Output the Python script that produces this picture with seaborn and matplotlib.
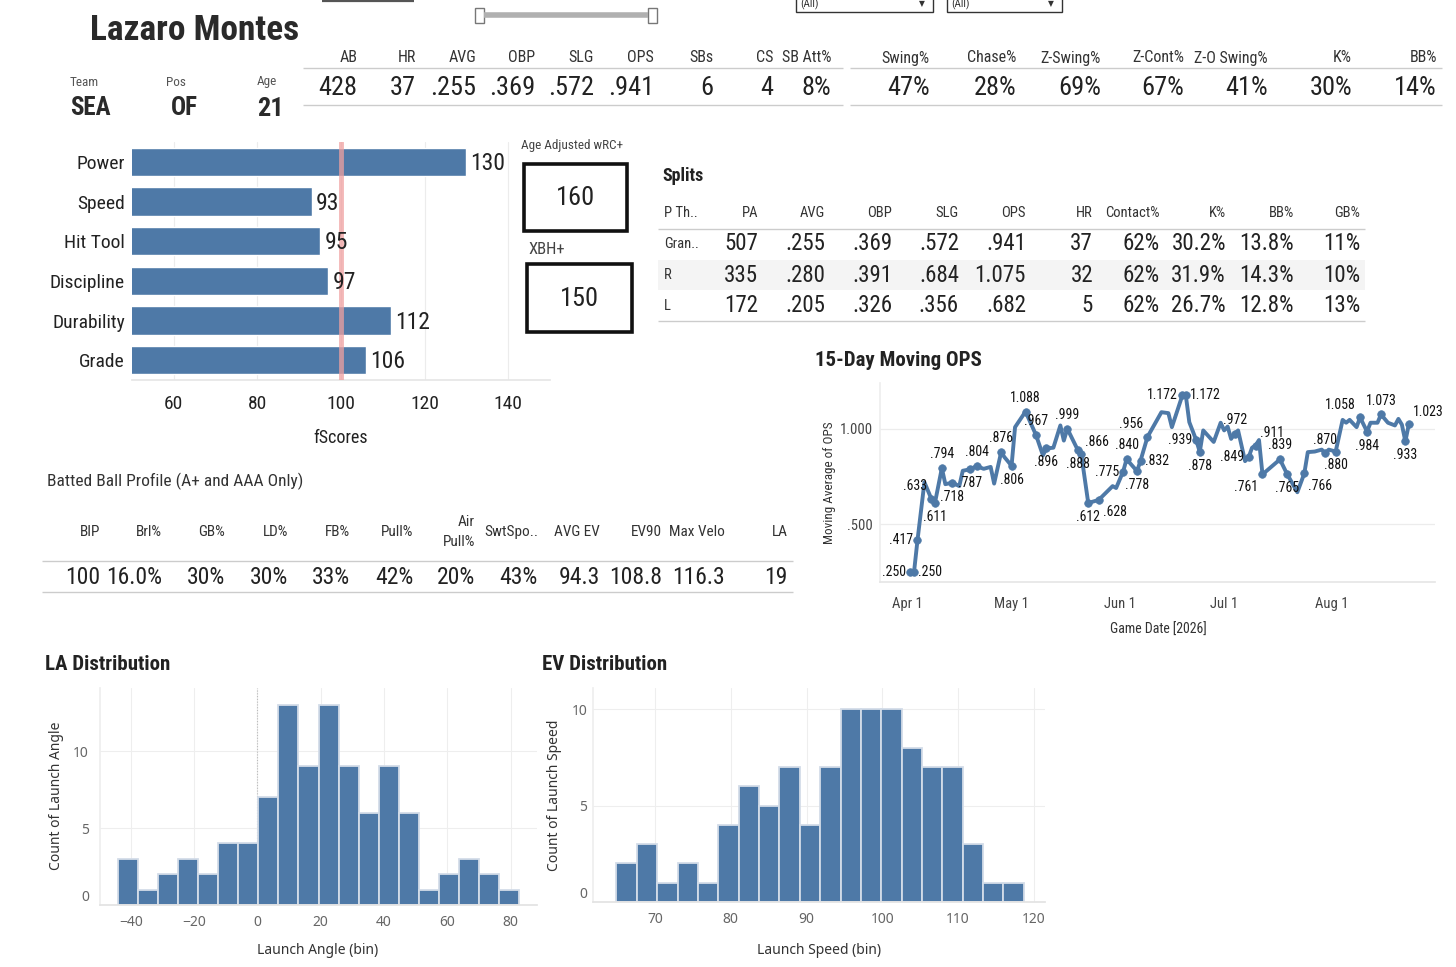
import numpy as np
import pandas as pd
import matplotlib
matplotlib.use('Agg')
import matplotlib.pyplot as plt
import seaborn as sns
from matplotlib import font_manager as fm
from matplotlib.patches import Rectangle

# ---------------- DATA ----------------
player_name = "Lazaro Montes"
team, pos, age = "SEA", "OF", "21"

stat_hdr1 = ['AB', 'HR', 'AVG', 'OBP', 'SLG', 'OPS', 'SBs', 'CS', 'SB Att%']
stat_val1 = ['428', '37', '.255', '.369', '.572', '.941', '6', '4', '8%']
stat_hdr2 = ['Swing%', 'Chase%', 'Z-Swing%', 'Z-Cont%', 'Z-O Swing%', 'K%', 'BB%']
stat_val2 = ['47%', '28%', '69%', '67%', '41%', '30%', '14%']

fs_cats = ['Power', 'Speed', 'Hit Tool', 'Discipline', 'Durability', 'Grade']
fs_vals = [130, 93, 95, 97, 112, 106]
wrc_plus = '160'
xbh_plus = '150'

split_cols = ['P Th..', 'PA', 'AVG', 'OBP', 'SLG', 'OPS', 'HR', 'Contact%', 'K%', 'BB%', 'GB%']
split_grand = ['Gran..', '507', '.255', '.369', '.572', '.941', '37', '62%', '30.2%', '13.8%', '11%']
split_r = ['R', '335', '.280', '.391', '.684', '1.075', '32', '62%', '31.9%', '14.3%', '10%']
split_l = ['L', '172', '.205', '.326', '.356', '.682', '5', '62%', '26.7%', '12.8%', '13%']

bb_cols = ['BIP', 'Brl%', 'GB%', 'LD%', 'FB%', 'Pull%', 'Air\nPull%', 'SwtSpo..', 'AVG EV', 'EV90', 'Max Velo', 'LA']
bb_vals = ['100', '16.0%', '30%', '30%', '33%', '42%', '20%', '43%', '94.3', '108.8', '116.3', '19']

ops_dates = ['2026-04-02', '2026-04-03', '2026-04-04', '2026-04-06', '2026-04-08', '2026-04-09',
             '2026-04-11', '2026-04-12', '2026-04-14', '2026-04-16', '2026-04-17', '2026-04-19',
             '2026-04-21', '2026-04-23', '2026-04-25', '2026-04-26', '2026-04-28', '2026-04-29',
             '2026-05-01', '2026-05-02', '2026-05-05', '2026-05-08', '2026-05-10', '2026-05-11',
             '2026-05-13', '2026-05-15', '2026-05-16', '2026-05-17', '2026-05-20', '2026-05-21',
             '2026-05-23', '2026-05-26', '2026-05-30', '2026-05-31', '2026-06-02', '2026-06-03',
             '2026-06-06', '2026-06-07', '2026-06-09', '2026-06-13', '2026-06-15', '2026-06-16',
             '2026-06-19', '2026-06-20', '2026-06-21', '2026-06-23', '2026-06-24', '2026-06-25',
             '2026-06-28', '2026-06-30', '2026-07-01', '2026-07-02', '2026-07-03', '2026-07-04',
             '2026-07-05', '2026-07-07', '2026-07-08', '2026-07-09', '2026-07-10', '2026-07-11',
             '2026-07-12', '2026-07-17', '2026-07-19', '2026-07-22', '2026-07-24', '2026-07-25',
             '2026-07-27', '2026-07-29', '2026-07-30', '2026-07-31', '2026-08-02', '2026-08-04',
             '2026-08-05', '2026-08-06', '2026-08-08', '2026-08-09', '2026-08-11', '2026-08-12',
             '2026-08-14', '2026-08-15', '2026-08-17', '2026-08-19', '2026-08-20', '2026-08-21',
             '2026-08-22', '2026-08-23']
ops_vals = [0.250, 0.250, 0.417, 0.720, 0.633, 0.611,
            0.794, 0.710, 0.718, 0.700, 0.780, 0.787,
            0.804, 0.790, 0.800, 0.713, 0.876, 0.850,
            0.806, 1.007, 1.088, 0.967, 0.860, 0.896,
            0.900, 1.016, 0.937, 0.999, 0.888, 0.866,
            0.612, 0.628, 0.700, 0.690, 0.775, 0.840,
            0.778, 0.832, 0.956, 1.085, 1.080, 1.007,
            1.172, 1.172, 1.033, 0.939, 0.878, 0.990,
            0.930, 1.030, 0.990, 1.010, 0.946, 0.972,
            0.990, 0.830, 0.849, 0.900, 0.911, 0.940,
            0.761, 0.839, 0.765, 0.668, 0.766, 0.877,
            0.880, 0.890, 0.870, 0.890, 0.880, 1.045,
            1.030, 1.045, 1.007, 1.058, 0.984, 1.030,
            1.030, 1.073, 1.030, 1.016, 1.050, 1.020,
            0.933, 1.023]
# label placement per point ('' = no label / no marker)
ops_label_pos = ['l', 'r', 'l', '', 'al', 'b',
                 'a', '', 'b', '', '', 'b',
                 'a', '', '', '', 'a', '',
                 'b', '', 'a', 'a', '', 'b',
                 '', '', '', 'a', 'b', 'ar',
                 'b', 'br', '', '', 'l', 'a',
                 'b', 'r', 'al', '', '', '',
                 'l', 'r', '', 'l', 'b', '',
                 '', '', '', '', '', 'a',
                 '', '', 'l', '', 'ar', '',
                 'bl', 'a', 'b', '', 'br', '',
                 '', '', 'a', '', 'b', '',
                 '', '', '', 'al', 'b', '',
                 '', 'a', '', '', '', '',
                 'b', 'ar']

la_bin_start, la_bin_width = -44.0, 6.33
la_counts = [3, 1, 2, 3, 2, 4, 4, 7, 13, 9, 13, 9, 6, 9, 6, 1, 2, 3, 2, 1]
ev_bin_start, ev_bin_width = 64.9, 2.69
ev_counts = [2, 3, 1, 2, 1, 4, 6, 5, 7, 4, 7, 10, 10, 10, 8, 7, 7, 3, 1, 1]

# ---------------- STYLE ----------------
sns.set_theme(style='white')
avail = {f.name for f in fm.fontManager.ttflist}
STRETCH = 'normal'
if 'Liberation Sans Narrow' in avail:
    COND = 'Liberation Sans Narrow'
elif 'Roboto Condensed' in avail:
    COND = 'Roboto Condensed'
elif any(f.name == 'DejaVu Sans' and f.stretch == 'condensed' for f in fm.fontManager.ttflist):
    COND, STRETCH = 'DejaVu Sans', 'condensed'
else:
    COND = 'DejaVu Sans'
BOOK = 'Noto Sans' if 'Noto Sans' in avail else 'DejaVu Sans'
plt.rcParams['font.family'] = [COND, 'DejaVu Sans']
plt.rcParams['font.stretch'] = STRETCH

BLUE = '#4e79a7'
DARK = '#222222'
GRID = '#ececec'
W, H = 1456, 967

fig = plt.figure(figsize=(W / 100, H / 100), dpi=100)
fig.patch.set_facecolor('white')


def axpos(x0, y0, x1, y1):
    return [x0 / W, 1 - y1 / H, (x1 - x0) / W, (y1 - y0) / H]


# ---------------- fScores bars ----------------
ax1 = fig.add_axes(axpos(132, 142, 550, 380))
df_fs = pd.DataFrame({'cat': fs_cats, 'val': fs_vals})
sns.barplot(data=df_fs, x='val', y='cat', orient='h', color=BLUE, saturation=1,
            width=0.71, ax=ax1, zorder=2)
ax1.set_xlim(50, 150)
ax1.set_ylim(5.5, -0.5)
ax1.set_xticks([60, 80, 100, 120, 140])
ax1.grid(axis='x', color=GRID, lw=0.8)
ax1.set_axisbelow(True)
ax1.axvline(100, color='#f0a0a0', lw=3.5, alpha=0.75, zorder=3)
for i, v in enumerate(fs_vals):
    ax1.text(v + 1, i + 0.04, str(v), va='center', ha='left', fontsize=17, color=DARK)
ax1.tick_params(axis='x', length=0, pad=11, labelsize=14, colors=DARK)
ax1.tick_params(axis='y', length=0, pad=5, labelsize=14, colors=DARK)
ax1.set_xlabel('')
ax1.set_ylabel('')
for s in ['top', 'right', 'left']:
    ax1.spines[s].set_visible(False)
ax1.spines['bottom'].set_color('#e6e6e6')

# ---------------- OPS line ----------------
ax2 = fig.add_axes(axpos(880, 383, 1435, 582))
df_ops = pd.DataFrame({'date': pd.to_datetime(ops_dates), 'ops': ops_vals, 'pos': ops_label_pos})
sns.lineplot(data=df_ops, x='date', y='ops', color=BLUE, lw=2.8, ax=ax2, zorder=3)
lab = df_ops[df_ops['pos'] != '']
sns.scatterplot(data=lab, x='date', y='ops', color=BLUE, s=30, edgecolor=BLUE, linewidth=0.5,
                ax=ax2, zorder=4)
offs = {'a': ((0, 5), 'center', 'bottom'), 'b': ((0, -5), 'center', 'top'),
        'l': ((-3, 0), 'right', 'center'), 'r': ((3, 0), 'left', 'center'),
        'ar': ((3, 4), 'left', 'bottom'), 'br': ((3, -4), 'left', 'top'),
        'al': ((-3, 4), 'right', 'bottom'), 'bl': ((-3, -4), 'right', 'top')}
for _, r in lab.iterrows():
    v = r['ops']
    txt = ('%.3f' % v) if v >= 1 else ('%.3f' % v)[1:]
    (dx, dy), ha, va = offs[r['pos']]
    ax2.annotate(txt, (r['date'], v), xytext=(dx, dy), textcoords='offset points',
                 ha=ha, va=va, fontsize=10, color='#111111', zorder=5)
ax2.set_xlim(pd.Timestamp('2026-03-24 06:00'), pd.Timestamp('2026-08-30 12:00'))
ax2.set_ylim(0.2005, 1.237)
ax2.set_yticks([0.5, 1.0])
ax2.set_yticklabels(['.500', '1.000'])
mt = pd.to_datetime(['2026-04-01', '2026-05-01', '2026-06-01', '2026-07-01', '2026-08-01'])
ax2.set_xticks(mt)
ax2.set_xticklabels(['Apr 1', 'May 1', 'Jun 1', 'Jul 1', 'Aug 1'])
ax2.grid(axis='y', color=GRID, lw=0.9)
ax2.tick_params(axis='y', length=0, pad=5, labelsize=10.5, colors='#444444')
ax2.tick_params(axis='x', length=3, color='#dddddd', pad=8, labelsize=10.5, colors='#444444')
ax2.set_xlabel('')
ax2.set_ylabel('')
for s in ['top', 'right']:
    ax2.spines[s].set_visible(False)
ax2.spines['left'].set_color('#eeeeee')
ax2.spines['bottom'].set_color('#e6e6e6')

# ---------------- Histograms ----------------
def hist(ax, start, width, counts, xlim, ylim, xticks, pad_y):
    n = len(counts)
    dfh = pd.DataFrame({'center': [start + width * (i + 0.5) for i in range(n)],
                        'count': counts})
    sns.histplot(data=dfh, x='center', weights='count', binwidth=width,
                 binrange=(start, start + width * n), color=BLUE, alpha=1,
                 edgecolor='#d3dce8', linewidth=1.3, ax=ax, zorder=2)
    ax.set_xlim(*xlim)
    ax.set_ylim(*ylim)
    ax.set_xticks(xticks)
    ax.set_yticks([0, 5, 10])
    ax.grid(True, color='#eeeeee', lw=0.8)
    ax.set_axisbelow(True)
    ax.tick_params(axis='both', length=0, labelsize=10, colors='#666666')
    ax.tick_params(axis='x', pad=7)
    ax.tick_params(axis='y', pad=pad_y)
    for t in ax.get_xticklabels() + ax.get_yticklabels():
        t.set_family(BOOK)
        t.set_stretch('normal')
    ax.get_yticklabels()[0].set_va('bottom')
    ax.set_xlabel('')
    ax.set_ylabel('')
    for s in ['top', 'right']:
        ax.spines[s].set_visible(False)
    ax.spines['left'].set_color('#eeeeee')
    ax.spines['bottom'].set_color('#e3e3e3')


ax3 = fig.add_axes(axpos(100, 688, 537, 905))
hist(ax3, la_bin_start, la_bin_width, la_counts, (-49.7, 88.3), (0, 14.1),
     [-40, -20, 0, 20, 40, 60, 80], 8)
ax3.axvline(0, color='#bbbbbb', lw=0.8, ls=(0, (1, 1.5)), zorder=1)

ax4 = fig.add_axes(axpos(593, 688, 1045, 902))
hist(ax4, ev_bin_start, ev_bin_width, ev_counts, (61.8, 121.5), (0, 11.1),
     [70, 80, 90, 100, 110, 120], 4)

# ---------------- Overlay (text, tables, decorations) ----------------
ov = fig.add_axes([0, 0, 1, 1])
ov.set_xlim(0, W)
ov.set_ylim(H, 0)
ov.axis('off')
ov.patch.set_visible(False)
ov.set_zorder(10)


def T(x, y, s, size, ha='left', va='center', weight='normal', color=DARK, family=None, **kw):
    ov.text(x, y, s, fontsize=size, ha=ha, va=va, fontweight=weight, color=color,
            family=family if family else [COND, 'DejaVu Sans'],
            fontstretch=STRETCH if family is None else 'normal', **kw)


def hline(x0, x1, y, color='#cccccc', lw=1.0):
    ov.plot([x0, x1], [y, y], color=color, lw=lw, solid_capstyle='butt')


# decorations at top
hline(322, 414, 0.8, color='#555555', lw=1.6)
hline(484, 648, 15, color='#b0b0b0', lw=4)
for xx in (475, 648):
    ov.add_patch(Rectangle((xx, 8), 9, 15, fc='white', ec='#777777', lw=1))
for (x0, wd) in ((796, 137), (947, 115)):
    ov.add_patch(Rectangle((x0, -6), wd, 18, fc='white', ec='#333333', lw=1))
    T(x0 + 4, 4, '(All)', 8, color='#333333')
    T(x0 + wd - 11, 4, '\u25BC', 5.5, ha='center', color='#333333', family='DejaVu Sans')

# header
T(90, 31, player_name, 25.5, weight='bold', color='#2a2a2a')
T(70, 83, 'Team', 9.5, color='#555555')
T(70, 108, team, 18, weight='bold', color='#2a2a2a')
T(166, 83, 'Pos', 9.5, color='#555555')
T(171, 108, pos, 18, weight='bold', color='#2a2a2a')
T(277, 82, 'Age', 9.5, ha='right', color='#555555')
T(284, 109, age, 19, ha='right', weight='bold', color='#2a2a2a')

x_r1 = [357, 416, 476, 535, 594, 654, 713, 773, 831]
for h, v, x in zip(stat_hdr1, stat_val1, x_r1):
    T(x, 58, h, 11.5, ha='right', color='#333333')
    T(x, 88, v, 19, ha='right')
hline(303, 843, 68)
hline(303, 843, 105)
x_r2 = [930, 1016, 1101, 1184, 1268, 1352, 1437]
for h, v, x in zip(stat_hdr2, stat_val2, x_r2):
    T(x, 58, h, 11.5, ha='right', color='#333333')
    T(x, 88, v, 19, ha='right')
hline(850, 1442, 68)
hline(850, 1442, 105)

# fScores axis title and boxes
T(341, 438, 'fScores', 13, ha='center')
T(521, 146, 'Age Adjusted wRC+', 9.5, color='#444444')
ov.add_patch(Rectangle((524, 164), 103, 67, fc='white', ec='#111111', lw=2.6))
T(575.5, 198, wrc_plus, 19, ha='center')
T(528, 249, 'XBH+', 12, color='#444444')
ov.add_patch(Rectangle((527, 264), 105, 68, fc='white', ec='#111111', lw=2.6))
T(579.5, 299, xbh_plus, 19, ha='center')

# Splits table
T(662, 176, 'Splits', 13, weight='bold')
ov.add_patch(Rectangle((658, 260), 707, 30, fc='#f4f4f4', ec='none'))
x_sp = [664, 758, 825, 892, 959, 1026, 1093, 1160, 1226, 1294, 1360]
for j, c in enumerate(split_cols):
    T(x_sp[j], 213, c, 10.5, ha='left' if j == 0 else 'right', color='#333333')
for row, yy in ((split_grand, 244), (split_r, 275), (split_l, 306)):
    for j, c in enumerate(row):
        if j == 0:
            T(x_sp[j], yy, c, 10.5, ha='left', color='#333333')
        else:
            T(x_sp[j], yy, c, 16.5, ha='right')
hline(658, 1365, 229)
hline(658, 1365, 321)

# Batted ball profile
T(47, 481, 'Batted Ball Profile (A+ and AAA Only)', 12.5, color='#333333')
x_bb = [100, 162, 225, 288, 350, 413, 475, 538, 600, 662, 725, 788]
for c, v, x in zip(bb_cols, bb_vals, x_bb):
    T(x, 532, c, 11, ha='right', color='#333333', linespacing=1.6)
    T(x, 577, v, 17, ha='right')
hline(42, 793, 561)
hline(42, 793, 592)

# OPS chart titles
T(815, 361, '15-Day Moving OPS', 15, weight='bold')
T(829, 483, 'Moving Average of OPS', 9.5, ha='center', rotation=90, color='#333333')
T(1158, 630, 'Game Date [2026]', 10, ha='center', color='#333333')

# Histogram titles
T(45, 664, 'LA Distribution', 15, weight='bold')
T(542, 664, 'EV Distribution', 15, weight='bold')
T(57, 796, 'Count of Launch Angle', 10, ha='center', rotation=90, color='#333333', family=BOOK)
T(318, 951, 'Launch Angle (bin)', 10, ha='center', color='#333333', family=BOOK)
T(555, 795, 'Count of Launch Speed', 10, ha='center', rotation=90, color='#333333', family=BOOK)
T(819, 950, 'Launch Speed (bin)', 10, ha='center', color='#333333', family=BOOK)

fig.savefig('out.png', dpi=100, facecolor='white')
